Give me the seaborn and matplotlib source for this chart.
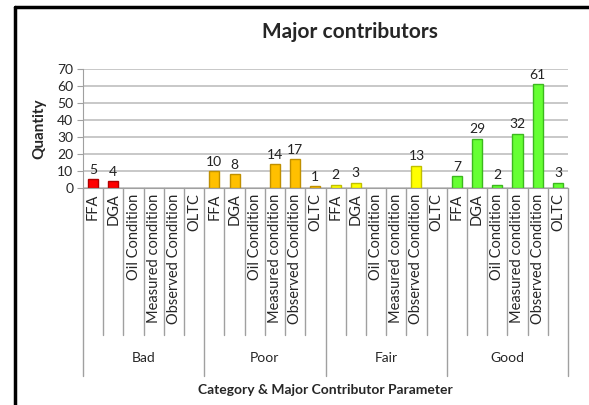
import pandas as pd
import matplotlib.pyplot as plt
import seaborn as sns

# ============ datos del grafico ============
categorias = ["Bad", "Poor", "Fair", "Good"]
parametros = ["FFA", "DGA", "Oil Condition", "Measured condition",
              "Observed Condition", "OLTC"]
valores_bad = [5, 4, 0, 0, 0, 0]
valores_poor = [10, 8, 0, 14, 17, 1]
valores_fair = [2, 3, 0, 0, 13, 0]
valores_good = [7, 29, 2, 32, 61, 3]
colores = {"Bad": "#FF0000", "Poor": "#FFC000", "Fair": "#FFFF00", "Good": "#66FF33"}
bordes = {"Bad": "#B00000", "Poor": "#C09000", "Fair": "#C0C000", "Good": "#3CB81E"}

# ============ armar dataframe ============
filas = []
for cat, vals in zip(categorias, [valores_bad, valores_poor, valores_fair, valores_good]):
    for par, v in zip(parametros, vals):
        filas.append({"clave": cat + "|" + par, "categoria": cat, "parametro": par, "cantidad": v})
df = pd.DataFrame(filas)

sns.set_style("white")
plt.rcParams['font.family'] = ['Lato', 'DejaVu Sans']

fig = plt.figure(figsize=(5.89, 4.05), dpi=100)
ax = fig.add_axes([83 / 589, 1 - 188 / 405, (568 - 83) / 589, (188 - 69) / 405])

paleta = {row.clave: colores[row.categoria] for row in df.itertuples()}
sns.barplot(data=df, x="clave", y="cantidad", hue="clave", palette=paleta,
            legend=False, width=0.5, ax=ax, saturation=1)
for patch, cat, v in zip(ax.patches, df["categoria"], df["cantidad"]):
    patch.set_edgecolor(bordes[cat])
    patch.set_linewidth(1.0 if v > 0 else 0)

# etiquetas de valores
for i, row in df.iterrows():
    if row["cantidad"] > 0:
        ax.text(i, row["cantidad"] + 2, str(row["cantidad"]), ha="center", va="bottom",
                fontsize=10, color="#222222")

ax.set_ylim(0, 70)
ax.set_xlim(-0.5, len(df) - 0.5)
ax.set_yticks(range(0, 71, 10))
ax.yaxis.grid(True, color="#BFBFBF", linewidth=1.2)
ax.set_axisbelow(True)
for s in ["top", "right"]:
    ax.spines[s].set_visible(False)
ax.spines["left"].set_color("#A0A0A0")
ax.spines["bottom"].set_color("#A0A0A0")
ax.tick_params(axis="y", labelsize=10, length=4, color="#A0A0A0", left=True, pad=3)

ax.set_xticks(range(len(df)))
ax.set_xticklabels(df["parametro"], rotation=90, fontsize=10.5, va="top")
ax.tick_params(axis="x", length=0, pad=4)
ax.set_xlabel("")
ax.set_ylabel("Quantity", fontsize=11, fontweight="bold", labelpad=8)

# lineas separadoras
trans = ax.get_xaxis_transform()
for i in range(len(df) + 1):
    x = i - 0.5
    if i % 6 == 0:
        ax.plot([x, x], [0, -1.58], transform=trans, color="#A0A0A0", lw=1, clip_on=False)
    else:
        ax.plot([x, x], [0, -1.235], transform=trans, color="#A0A0A0", lw=1, clip_on=False)
for k, cat in enumerate(categorias):
    ax.text(k * 6 + 2.5, -1.43, cat, transform=trans, ha="center", va="center", fontsize=10)

fig.text(0.5 * (83 + 568) / 589, 1 - 390 / 405, "Category & Major Contributor Parameter",
         ha="center", va="center", fontsize=10, fontweight="bold")
fig.text(350 / 589, 1 - 32 / 405, "Major contributors", ha="center", va="center",
         fontsize=15, fontweight="bold")

# marco negro
fig.add_artist(plt.Line2D([15 / 589, 15 / 589], [0, 1 - 7 / 405], color="black", lw=2.5))
fig.add_artist(plt.Line2D([15 / 589, 1], [1 - 7 / 405, 1 - 7 / 405], color="black", lw=2.5))

fig.savefig("out.png", dpi=100)
